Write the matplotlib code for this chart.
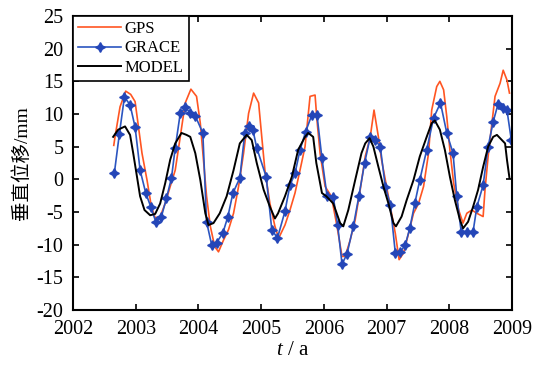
import matplotlib
matplotlib.use("Agg")
import matplotlib.pyplot as plt

plt.rcParams['font.family'] = ['Liberation Serif', 'Noto Sans CJK SC']
plt.rcParams['mathtext.fontset'] = 'custom'
plt.rcParams['mathtext.rm'] = 'Liberation Serif'
plt.rcParams['mathtext.it'] = 'Liberation Serif:italic'
plt.rcParams['axes.unicode_minus'] = False

# ---------------- data ----------------
gps_t = [2002.65, 2002.67, 2002.75, 2002.84, 2002.92, 2002.99, 2003.10, 2003.18, 2003.25, 2003.31,
         2003.39, 2003.47, 2003.55, 2003.63, 2003.71, 2003.79, 2003.88, 2003.97, 2004.03, 2004.08,
         2004.13, 2004.19, 2004.26, 2004.32, 2004.40, 2004.48, 2004.56, 2004.64, 2004.72, 2004.80,
         2004.88, 2004.96, 2005.01, 2005.06, 2005.14, 2005.22, 2005.28, 2005.38, 2005.46, 2005.54,
         2005.62, 2005.70, 2005.78, 2005.86, 2005.89, 2005.94, 2006.02, 2006.12, 2006.21, 2006.29,
         2006.34, 2006.42, 2006.50, 2006.58, 2006.66, 2006.74, 2006.80, 2006.87, 2006.92, 2007.00,
         2007.08, 2007.14, 2007.20, 2007.27, 2007.35, 2007.43, 2007.51, 2007.59, 2007.67, 2007.72,
         2007.80, 2007.85, 2007.91, 2007.96, 2008.01, 2008.07, 2008.15, 2008.22, 2008.28, 2008.36,
         2008.44, 2008.54, 2008.57, 2008.62, 2008.68, 2008.73, 2008.81, 2008.86, 2008.92, 2008.96]
gps_v = [5.2, 6.5, 11.1, 13.5, 13.0, 11.9, 4.0, -0.1, -4.2, -5.9,
         -5.7, -3.7, -1.1, 1.4, 6.5, 11.7, 13.8, 12.7, 8.6, 3.0,
         -2.6, -7.2, -10.3, -11.1, -9.3, -7.7, -5.2, -1.1, 4.0, 10.1,
         13.2, 11.7, 6.5, 1.4, -3.7, -7.2, -9.0, -7.0, -4.7, -2.1,
         1.4, 5.0, 12.7, 12.9, 9.1, 4.0, -1.1, -2.6, -7.2, -11.8,
         -11.8, -9.3, -6.2, -1.6, 3.5, 6.5, 10.6, 6.5, 3.0, -1.1,
         -5.2, -8.3, -12.3, -11.3, -8.3, -5.2, -3.7, -1.1, 4.0, 10.6,
         14.2, 15.0, 13.7, 9.6, 4.5, -0.6, -4.7, -6.7, -5.2, -4.7,
         -5.2, -5.7, -1.6, 3.5, 8.6, 12.7, 14.7, 16.7, 15.2, 13.2]

grace_t = [2002.66, 2002.74, 2002.82, 2002.91, 2002.99, 2003.07, 2003.16, 2003.24, 2003.32, 2003.41,
           2003.49, 2003.57, 2003.63, 2003.71, 2003.79, 2003.87, 2003.95, 2004.07, 2004.13, 2004.21,
           2004.29, 2004.39, 2004.47, 2004.55, 2004.66, 2004.74, 2004.81, 2004.87, 2004.93, 2005.08,
           2005.17, 2005.26, 2005.38, 2005.46, 2005.54, 2005.62, 2005.71, 2005.81, 2005.89, 2005.97,
           2006.05, 2006.15, 2006.22, 2006.29, 2006.37, 2006.47, 2006.56, 2006.65, 2006.74, 2006.82,
           2006.90, 2006.98, 2007.06, 2007.14, 2007.22, 2007.30, 2007.37, 2007.45, 2007.53, 2007.64,
           2007.75, 2007.86, 2007.96, 2008.06, 2008.12, 2008.19, 2008.28, 2008.38, 2008.44, 2008.54,
           2008.62, 2008.70, 2008.78, 2008.86, 2008.92, 2008.99]
grace_v = [1.0, 7.0, 12.6, 11.4, 8.0, 1.4, -2.1, -4.2, -6.5, -5.7,
           -2.9, 0.2, 4.8, 10.1, 11.0, 10.2, 9.7, 7.1, -6.5, -10.0,
           -9.7, -8.2, -5.7, -2.1, 0.2, 7.1, 8.1, 7.5, 4.8, 0.4,
           -7.7, -9.0, -4.9, -0.9, 0.9, 4.5, 7.3, 9.9, 9.9, 3.2,
           -2.5, -2.7, -7.0, -13.0, -11.4, -7.2, -2.5, 2.5, 6.5, 6.0,
           5.0, -1.1, -3.9, -11.3, -11.1, -10.0, -7.5, -3.7, -0.1, 4.5,
           9.4, 11.7, 7.1, 4.0, -2.6, -8.0, -8.0, -8.0, -4.2, -0.9,
           5.0, 8.8, 11.6, 10.9, 10.6, 6.0]

model_t = [2002.64, 2002.72, 2002.83, 2002.91, 2002.96, 2003.02, 2003.07, 2003.14, 2003.23, 2003.31,
           2003.39, 2003.47, 2003.55, 2003.63, 2003.73, 2003.81, 2003.87, 2003.95, 2004.03, 2004.11,
           2004.16, 2004.24, 2004.34, 2004.45, 2004.56, 2004.66, 2004.77, 2004.85, 2004.93, 2005.04,
           2005.14, 2005.22, 2005.27, 2005.38, 2005.49, 2005.59, 2005.70, 2005.75, 2005.83, 2005.88,
           2005.97, 2006.04, 2006.15, 2006.26, 2006.31, 2006.39, 2006.50, 2006.60, 2006.66, 2006.73,
           2006.79, 2006.87, 2006.95, 2007.03, 2007.11, 2007.15, 2007.24, 2007.32, 2007.43, 2007.53,
           2007.64, 2007.72, 2007.77, 2007.85, 2007.93, 2008.01, 2008.09, 2008.17, 2008.22, 2008.30,
           2008.38, 2008.46, 2008.54, 2008.62, 2008.70, 2008.76, 2008.84, 2008.89, 2008.92, 2008.96]
model_v = [6.5, 7.6, 8.1, 6.8, 4.0, 0.4, -2.6, -4.7, -5.5, -5.3,
           -3.7, -0.6, 3.0, 5.5, 7.1, 6.8, 6.5, 4.0, -0.1, -5.2,
           -7.0, -6.7, -5.2, -2.6, 1.4, 5.5, 6.8, 6.0, 2.5, -1.6,
           -4.2, -6.0, -5.2, -2.6, 0.4, 4.5, 6.5, 7.1, 6.5, 2.5,
           -2.1, -2.6, -3.7, -6.7, -7.2, -4.7, -0.1, 4.0, 5.5, 6.3,
           5.0, 1.9, -1.1, -3.7, -6.7, -7.2, -5.7, -3.2, -0.1, 3.5,
           6.5, 8.6, 9.0, 7.6, 4.5, 0.4, -3.2, -6.2, -7.5, -6.5,
           -4.2, -1.6, 1.9, 5.0, 6.5, 6.8, 6.0, 5.5, 3.0, 0.2]

x_ticks = [2002, 2003, 2004, 2005, 2006, 2007, 2008, 2009]
y_ticks = [-20, -15, -10, -5, 0, 5, 10, 15, 20, 25]

# ---------------- figure ----------------
fig = plt.figure(figsize=(5.42, 3.69), dpi=100)
ax = fig.add_axes([0.1347, 0.160, 0.8099, 0.7966])

ax.plot(gps_t, gps_v, color='#FF5522', lw=1.2, label='GPS')
ax.plot(grace_t, grace_v, color='#2B55C0', lw=1.2, marker=(4, 1, 0), markersize=7,
        markerfacecolor='#2446B8', markeredgecolor='#2446B8', label='GRACE')
ax.plot(model_t, model_v, color='black', lw=1.4, label='MODEL')

ax.set_xlim(2002, 2009)
ax.set_ylim(-20, 25)
ax.set_xticks(x_ticks)
ax.set_yticks(y_ticks)
ax.tick_params(direction='in', length=4, width=1.2, top=True, right=True,
               labelsize=14.5, pad=7)
for s in ax.spines.values():
    s.set_linewidth(1.5)

ax.set_xlabel(r'$t$ / a', fontsize=15, labelpad=2)
ax.set_ylabel('垂直位移/mm', fontsize=14, labelpad=4)

leg = ax.legend(loc='upper left', bbox_to_anchor=(0, 1), borderaxespad=0,
                fancybox=False, edgecolor='black', framealpha=1, fontsize=12,
                handlelength=2.6, handletextpad=0.2, labelspacing=0.2,
                borderpad=0.3, markerscale=1.0)
leg.get_frame().set_linewidth(1.2)

fig.savefig('out.png', dpi=100)
